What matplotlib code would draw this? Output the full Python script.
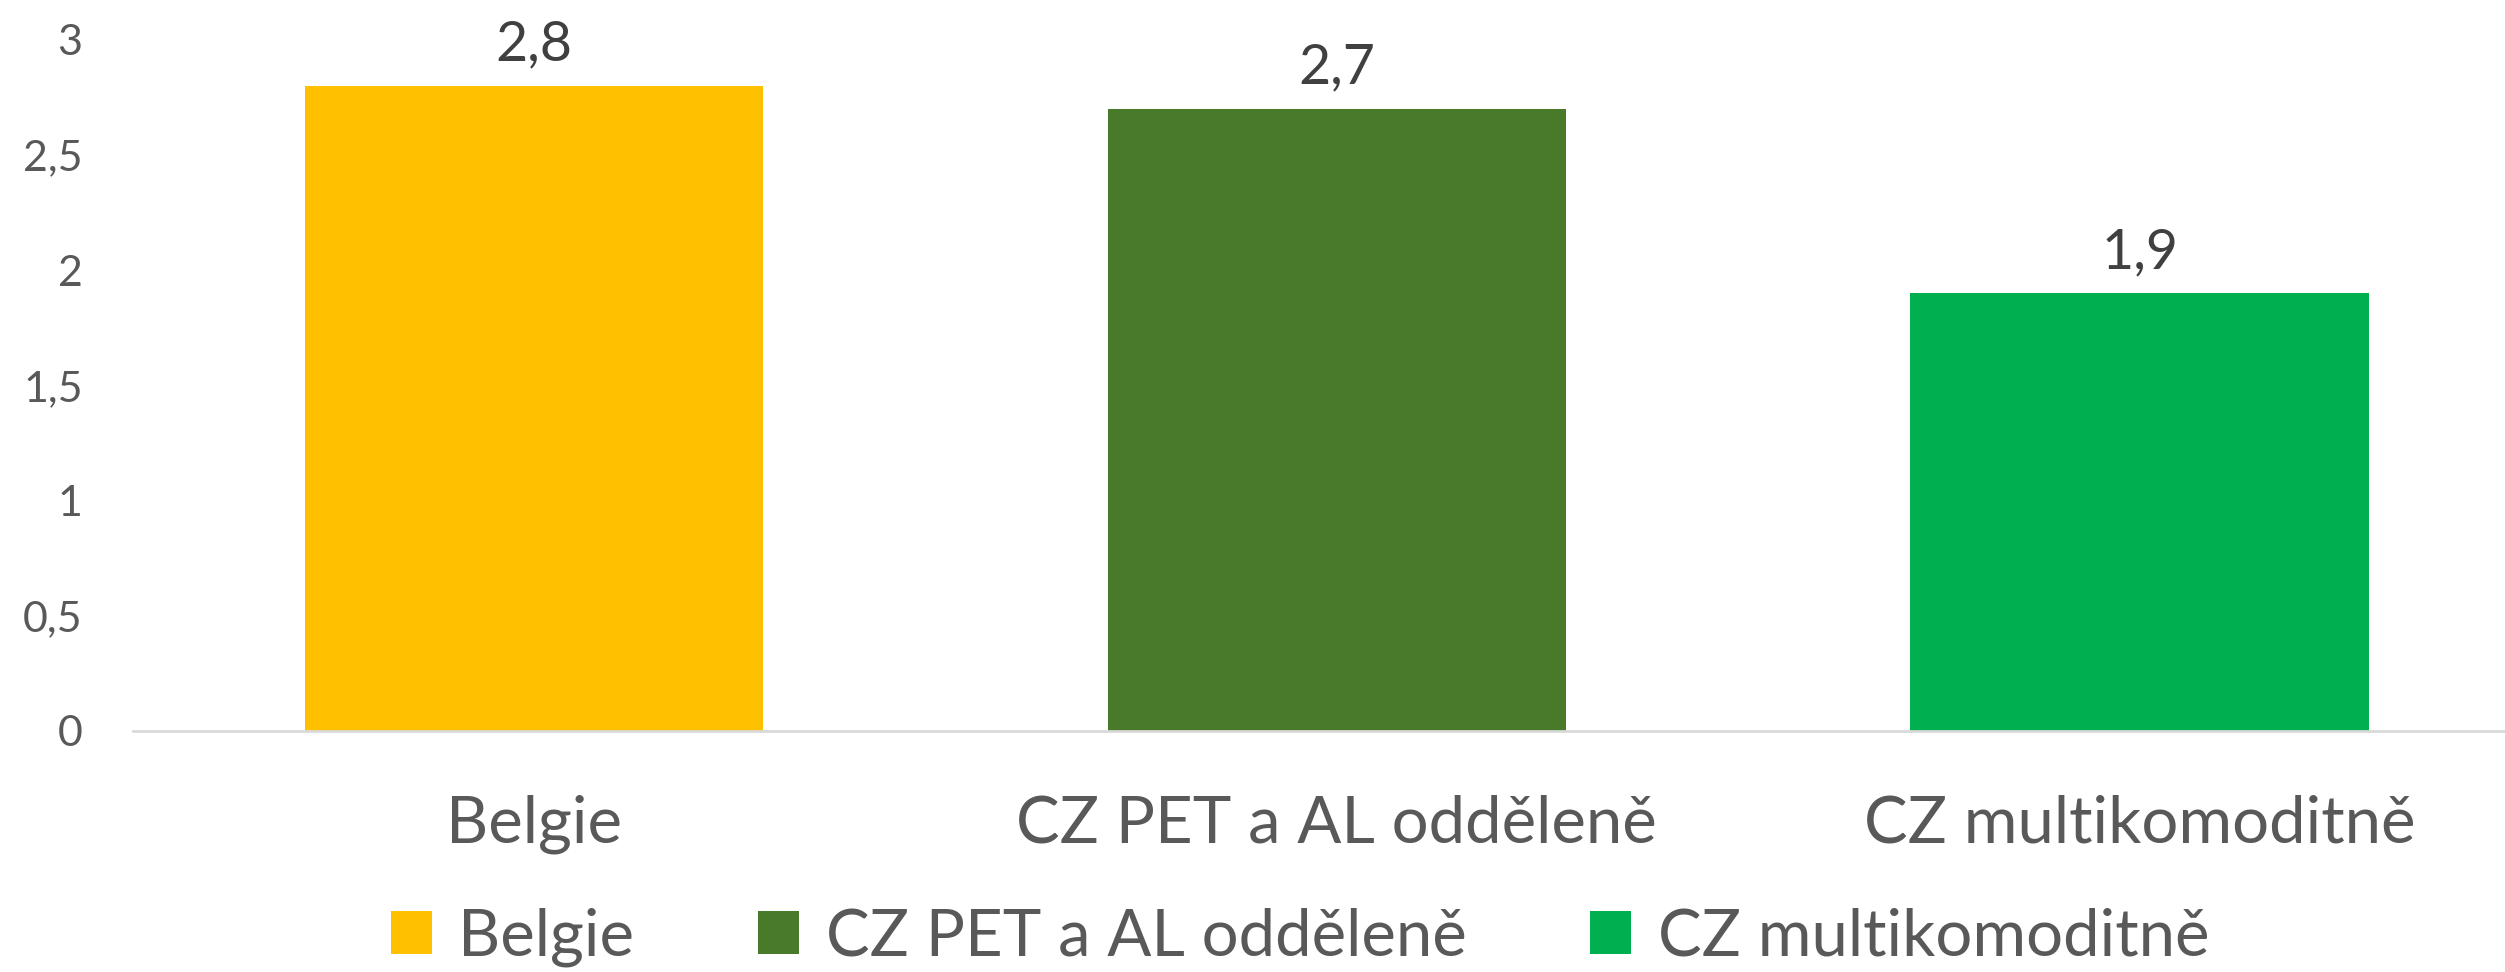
import matplotlib.pyplot as plt
from matplotlib.patches import Patch
from matplotlib.ticker import FuncFormatter

categories = ["Belgie", "CZ PET a AL odděleně", "CZ multikomoditně"]
values = [2.8, 2.7, 1.9]
colors = ["#FFC000", "#487A29", "#00B050"]
yticks = [0, 0.5, 1, 1.5, 2, 2.5, 3]

plt.rcParams['font.family'] = ['Lato', 'DejaVu Sans']

def fmt(v, pos=None):
    s = ("%g" % v).replace(".", ",")
    return s

fig = plt.figure(figsize=(25.05, 9.72), dpi=100)
ax = fig.add_axes([83 / 1568, 1 - 457 / 608, 3 * 502.5 / 1568, (457 - 25) / 608])

x = range(len(categories))
bars = ax.bar(x, values, width=0.571, color=colors)
for b, v in zip(bars, values):
    ax.annotate(fmt(v), (b.get_x() + b.get_width() / 2, v), xytext=(0, 11),
                textcoords="offset points", ha="center", va="bottom",
                fontsize=40, color="#404040")

ax.set_xlim(-0.5, 2.5)
ax.set_ylim(0, 3)
ax.set_yticks(yticks)
ax.yaxis.set_major_formatter(FuncFormatter(fmt))
ax.set_xticks(list(x))
ax.set_xticklabels(categories)
ax.tick_params(axis='y', length=0, labelsize=31, labelcolor="#595959", pad=36)
ax.tick_params(axis='x', length=0, labelsize=47, labelcolor="#595959", pad=46)
for s in ["top", "right", "left"]:
    ax.spines[s].set_visible(False)
ax.spines["bottom"].set_color("#D9D9D9")
ax.spines["bottom"].set_linewidth(2)

handles = [Patch(facecolor=c, label=l) for c, l in zip(colors, categories)]
fig.legend(handles=handles, loc="center", bbox_to_anchor=(0.519, 0.036), ncol=3,
           frameon=False, fontsize=47, labelcolor="#595959", handlelength=0.63,
           handleheight=0.63, handletextpad=0.4, columnspacing=1.9)

fig.savefig("out.png", dpi=100)
